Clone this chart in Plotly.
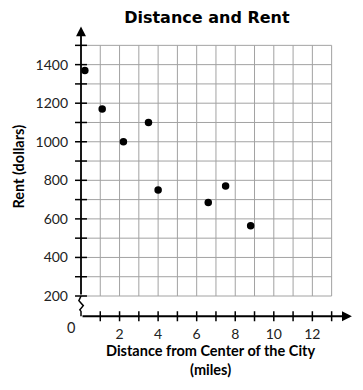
import plotly.graph_objects as go

# ---- data ----
distance_miles = [0.2, 1.1, 2.2, 3.5, 4.0, 6.6, 7.5, 8.8]
rent_dollars = [1370, 1170, 1000, 1100, 750, 685, 770, 565]

x_tick_vals = [2, 4, 6, 8, 10, 12]
x_tick_text = ["2", "4", "6", "8", "10", "12"]
y_tick_vals = [200, 400, 600, 800, 1000, 1200, 1400]
y_tick_text = ["200", "400", "600", "800", "1000", "1200", "1400"]

x_grid = list(range(1, 14))          # vertical grid lines (miles)
y_grid = list(range(200, 1501, 100))  # horizontal grid lines (dollars)

title_text = "Distance and Rent"
x_title = "Distance from Center of the City<br>(miles)"
y_title = "Rent (dollars)"

# ---- layout geometry ----
X_RANGE = [-1.089, 14.471]
Y_RANGE = [44.4, 1631.5]
AXIS_Y = 95      # where the horizontal axis sits (broken y axis)
GRID_X_MAX = 13
GRID_Y_MIN, GRID_Y_MAX = 200, 1500
FONT = "Lato"

fig = go.Figure()
fig.add_trace(go.Scatter(
    x=distance_miles, y=rent_dollars, mode="markers",
    marker=dict(color="black", size=7.5),
    cliponaxis=False, showlegend=False, hoverinfo="x+y"))

shapes = []
grid_style = dict(color="#a2a2a2", width=1)
for gx in x_grid:
    shapes.append(dict(type="line", xref="x", yref="y", x0=gx, x1=gx,
                       y0=GRID_Y_MIN, y1=GRID_Y_MAX, line=grid_style, layer="below"))
for gy in y_grid:
    shapes.append(dict(type="line", xref="x", yref="y", x0=0, x1=GRID_X_MAX,
                       y0=gy, y1=gy, line=grid_style, layer="below"))
# crossing tick marks
for gy in y_grid:
    shapes.append(dict(type="line", xref="x", yref="y", x0=-0.31, x1=0.31,
                       y0=gy, y1=gy, line=dict(color="black", width=1.5)))
for gx in x_grid:
    shapes.append(dict(type="line", xref="x", yref="y", x0=gx, x1=gx,
                       y0=AXIS_Y - 26, y1=AXIS_Y + 26, line=dict(color="black", width=1.5)))
# axis break (zigzag) on the y axis
shapes.append(dict(type="path", xref="x", yref="y",
                   path=f"M 0 200 L -0.11 176 L 0.12 150 L -0.06 128 L 0 120 L 0 {AXIS_Y}",
                   line=dict(color="black", width=1.5)))

annotations = [
    # y axis with arrow
    dict(x=0, y=1598, ax=0, ay=200, xref="x", yref="y", axref="x", ayref="y",
         text="", showarrow=True, arrowhead=2, arrowsize=1.1, arrowwidth=1.8,
         arrowcolor="black", standoff=0, startstandoff=0),
    # x axis with arrow
    dict(x=14.05, y=AXIS_Y, ax=0, ay=AXIS_Y, xref="x", yref="y", axref="x", ayref="y",
         text="", showarrow=True, arrowhead=2, arrowsize=1.1, arrowwidth=1.8,
         arrowcolor="black", standoff=0, startstandoff=0),
    dict(text="0", x=0.0367, y=-0.0065, xref="paper", yref="paper",
         showarrow=False, font=dict(family=FONT, size=14.5, color="#222"),
         xanchor="center", yanchor="middle"),
    dict(text=x_title, x=0.5017, y=-0.1127, xref="paper", yref="paper",
         showarrow=False, font=dict(family=FONT, size=14.5, color="black", weight="bold"),
         xanchor="center", yanchor="middle"),
    dict(text=y_title, x=-0.1367, y=0.521, xref="paper", yref="paper",
         showarrow=False, textangle=-90,
         font=dict(family=FONT, size=14.5, color="black", weight="bold"),
         xanchor="center", yanchor="middle"),
]

fig.update_layout(
    width=363, height=390,
    margin=dict(l=60, r=3, t=20, b=64, autoexpand=False),
    plot_bgcolor="white", paper_bgcolor="white",
    title=dict(text=title_text, x=0.570, y=0.956, xref="container", yref="container",
               xanchor="center", yanchor="middle",
               font=dict(family="DejaVu Sans", size=16, color="black", weight="bold")),
    xaxis=dict(range=X_RANGE, showgrid=False, zeroline=False, showline=False,
               ticks="", tickvals=x_tick_vals, ticktext=x_tick_text,
               anchor="free", position=0.0327, ticklabelstandoff=8,
               tickfont=dict(family=FONT, size=14, color="#222"), fixedrange=True),
    yaxis=dict(range=Y_RANGE, showgrid=False, zeroline=False, showline=False,
               ticks="", tickvals=y_tick_vals, ticktext=y_tick_text,
               anchor="free", position=0.07, ticklabelstandoff=13,
               tickfont=dict(family=FONT, size=14, color="#222"), fixedrange=True),
    shapes=shapes, annotations=annotations,
)

# remove the browser's default 8px page margin so the figure fills the window
fig.write_html("out.html", config={"displayModeBar": False},
               post_script="document.body.style.margin='0px';")
